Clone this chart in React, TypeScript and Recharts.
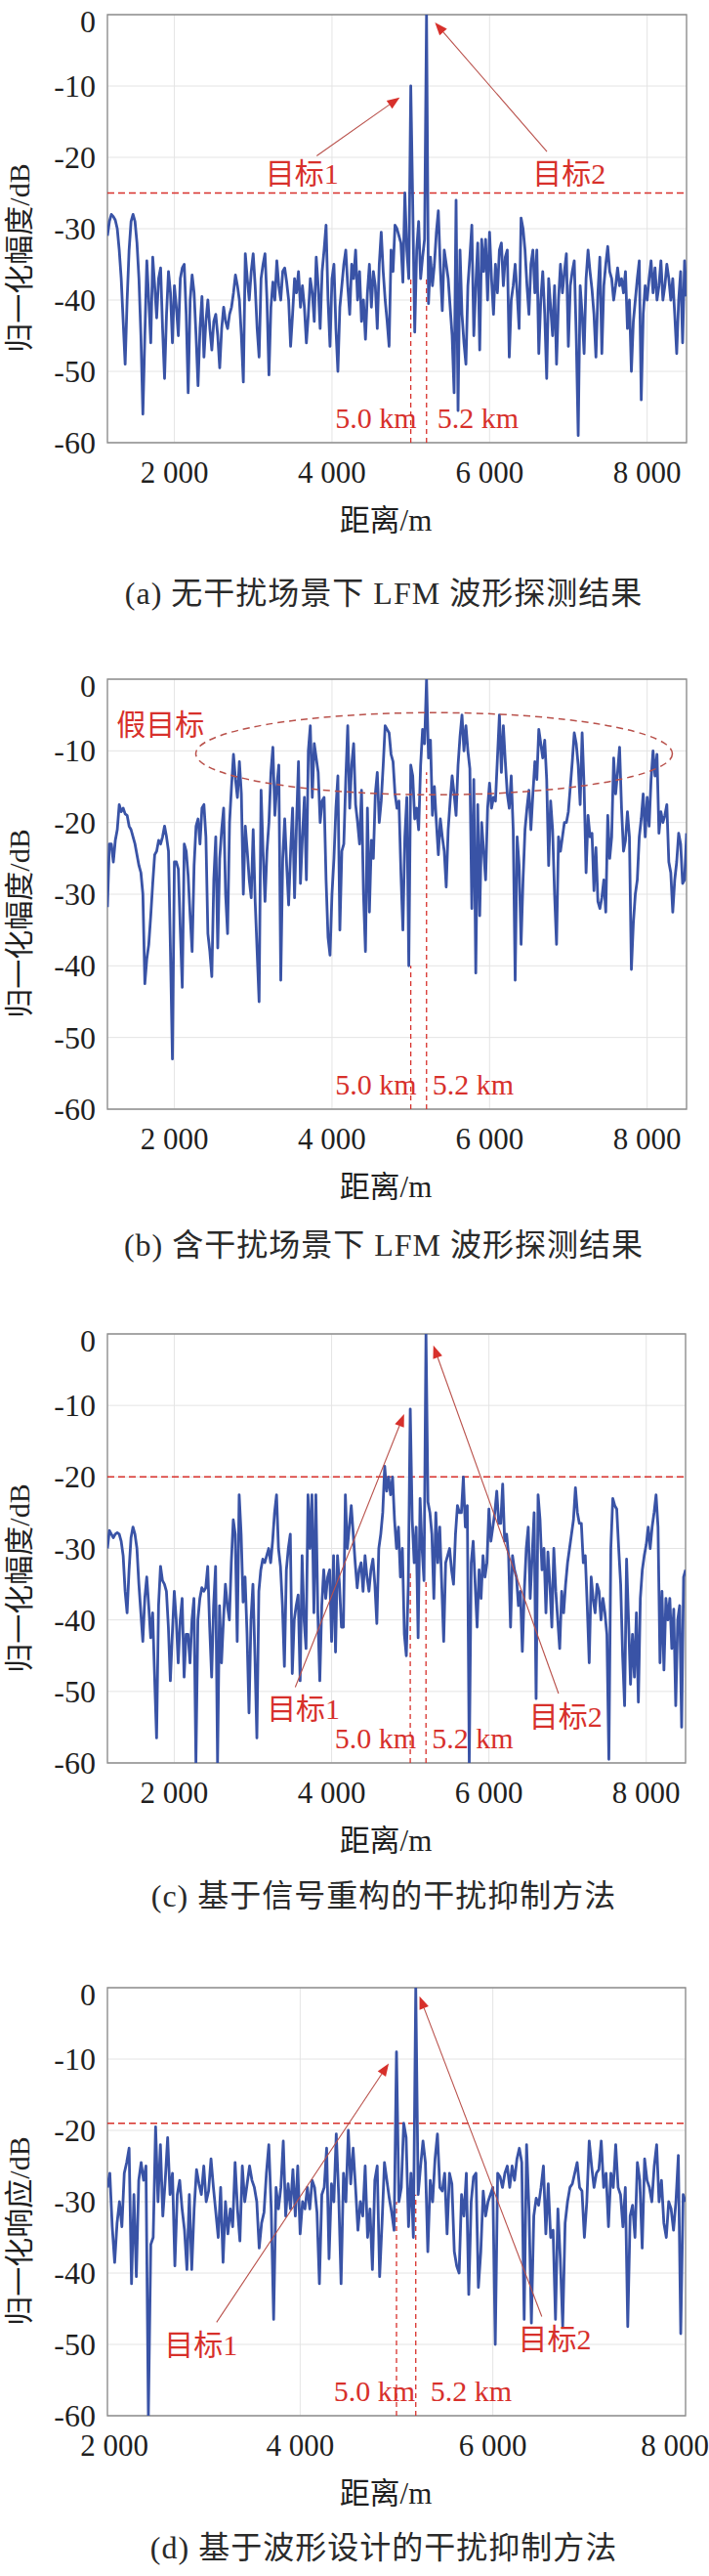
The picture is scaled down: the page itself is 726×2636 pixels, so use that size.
import {
  LineChart,
  Line,
  XAxis,
  YAxis,
  CartesianGrid,
  ReferenceLine,
  ReferenceArea,
  ReferenceDot,
} from 'recharts';

const SERIF = "'Liberation Serif', 'Noto Sans CJK SC', serif";
const BLUE = '#3953a6';
const RED = '#d7302b';
const ARROW_RED = '#b9514b';
const GRID = '#e4e4e4';
const FRAME = '#8d8d8d';
const INK = '#1f1f1f';

const STEP = 25;
const TOP_PAD = 30;
const X_TICKS = [2000, 4000, 6000, 8000];
const Y_TICKS = [-60, -50, -40, -30, -20, -10, 0];
const DOMAIN_ABC: [number, number] = [1150, 8500];
const DOMAIN_D: [number, number] = [2000, 8000];
const TARGETS = [5000, 5200];

// (a) no jamming, LFM, 1150..8500 m every 25 m
const ampA = [
  -31, -29, -28, -28.3, -28.8, -30, -33, -37, -43, -49, -40, -33, -29, -28, -29, -32, -37, -45, -56, -45,
  -34.5, -40, -46, -34, -38, -42.5, -37, -35.5, -44, -51, -42, -36, -39, -46, -38, -41, -45, -37, -35.5, -35,
  -42, -53, -40, -36.5, -39, -45, -52, -44, -39.5, -48, -43, -40, -44, -47, -43, -42, -45, -49.5, -44, -41,
  -43, -44, -42, -41, -39, -36.5, -38, -40, -45, -51.5, -33.5, -37, -40, -36, -33.5, -38, -44, -48, -37, -35,
  -33.5, -40, -50.5, -41, -37.5, -40, -34.5, -38, -40, -36, -35.5, -37.5, -40, -46.5, -42, -37, -39, -36, -41, -38,
  -41, -46, -42, -37, -39, -43, -34, -38, -44, -36, -33, -29.5, -40, -46.5, -37, -35, -44, -50, -41, -38,
  -35, -33, -38, -42, -35, -37, -33, -40, -36, -43, -40, -45.5, -39, -35, -41, -36, -38, -44, -35, -30.5,
  -36, -40, -43, -46.5, -33, -36, -29.5, -30, -31, -32, -37.5, -25, -33, -37, -10, -26.5, -44.5, -33, -29, -37,
  -34, -31.5, 0, -40.5, -34, -38, -35, -30.5, -27.5, -35.5, -41.5, -33, -35, -37, -41, -45, -53, -26, -55.5, -33,
  -42, -46, -49, -38, -34, -29.5, -45, -38, -32, -47, -31.5, -36, -31.5, -40, -30.5, -37, -42, -35, -39, -33,
  -32, -38, -34, -33, -48, -40, -38, -35, -39, -44, -28.5, -30, -33, -38, -42, -35, -33, -39, -33, -47.5,
  -40, -36, -42, -51, -37, -41, -45, -38, -49, -40, -35, -39, -36, -33.5, -46.5, -38, -36, -34.5, -45, -59,
  -38, -42, -47.5, -37, -33, -36, -38.5, -42, -48, -39, -34, -47.5, -38, -35, -32.5, -36, -37, -40, -38, -35.5,
  -38, -37, -39, -36, -44, -40, -50, -43, -40, -37, -34.5, -54, -42, -38, -40, -37, -34.5, -39, -35.5, -40,
  -38, -34.5, -40, -38, -35, -37, -40, -37, -42, -47.5, -40, -36, -46, -34.5, -39.5,
];

// (b) with jamming, LFM
const ampB = [
  -31.8, -23, -23, -25.5, -22.5, -21, -17.5, -18.5, -18, -18.8, -19, -20.5, -21, -22, -23, -24.5, -26, -27, -30, -42.5,
  -39, -37, -33, -28.5, -24.5, -24, -22.5, -23, -22, -20.5, -22, -24, -38, -53, -25.5, -25.5, -26.5, -35, -43, -23,
  -24, -27.5, -33, -38, -26, -20.5, -19.5, -23, -18, -17.5, -22, -35.5, -38, -41.5, -28, -22, -37.5, -25, -21, -18,
  -30, -35.5, -20, -15, -10.5, -14, -16.5, -11.5, -16, -30, -20.5, -24, -28, -30.5, -21, -31, -38, -45, -15.5, -24,
  -31, -24, -20, -13, -9.5, -19, -15, -12, -42, -25, -19.5, -26, -31.5, -24, -18, -30.5, -20, -11.5, -28.5, -22,
  -16.5, -28, -10, -6.5, -16.5, -9, -11, -13, -20, -17, -16.5, -28, -36, -38.5, -30, -25, -18, -13.5, -35, -24,
  -23, -14, -6.5, -18, -12, -9, -17.5, -20, -23, -15.5, -30, -38, -18, -32.5, -22.5, -25, -16, -13, -20, -17,
  -12, -6.5, -7, -7.5, -10.5, -11.5, -16, -18, -17, -27, -35, -22, -16.5, -40, -12, -13.5, -19.5, -18, -21, -12,
  -7, -9, 0, -11, -8.5, -19, -15, -20, -24.5, -19.5, -22, -24, -29, -21, -17, -13.5, -16, -19, -12, -8,
  -5, -10, -6.5, -10, -12.5, -32, -14, -41, -17.5, -33, -20, -24, -28, -18, -14.5, -18, -16.5, -17, -11, -5,
  -13, -6.5, -11.5, -16, -18, -13.5, -21, -42, -22, -26, -37, -28, -21, -18, -15.5, -21, -16, -11.5, -14, -7,
  -9, -11, -8.5, -14, -26, -17, -21, -30, -37, -22, -24, -22, -20, -20, -18.5, -15, -11.5, -7.5, -9, -12,
  -17.5, -7.5, -15, -27, -19, -22, -21.5, -29.5, -23.5, -31, -32, -30.5, -28, -32.5, -19, -25, -22, -11, -16, -13,
  -9.5, -18, -24, -22.5, -18.5, -22, -40.5, -34, -30, -28, -22, -19.5, -16, -22, -16.5, -20.5, -14, -10, -13.5, -10.5,
  -21.5, -18.5, -20, -19, -17.5, -25.5, -27, -32.5, -28, -25.5, -21.5, -23, -28.5, -28, -21.5,
];

// (c) signal reconstruction method
const ampC = [
  -30, -27.5, -28, -28.5, -28, -27.8, -28, -29, -31, -36, -39, -33, -28.5, -27, -28, -30, -35, -39, -43, -37,
  -34, -38, -42.5, -39, -48, -56.5, -38, -32.5, -34.5, -35, -36, -41, -48.5, -42, -36, -40, -46, -40, -37, -48,
  -42, -42, -46, -40, -37, -60, -40, -37, -35.5, -36, -35.5, -32.5, -41, -48, -38, -32.5, -60, -38, -46, -40,
  -35, -38, -40, -32, -26, -28, -43, -22.5, -28, -37.5, -34, -42, -53, -40, -35, -45, -56.5, -36, -33, -31.5,
  -32, -31, -30, -32, -29, -25, -22.5, -30, -32.5, -38, -46.5, -33, -30, -28, -47.5, -40, -38, -36.5, -48.5, -31,
  -40, -44, -22.5, -30, -22.5, -39, -22.5, -39, -48.5, -38, -33, -37, -34, -33, -43, -31, -44.5, -31, -35, -41,
  -41, -22.5, -30, -27, -24, -28, -32, -35.5, -33, -32, -36, -31, -34, -36, -33, -31.5, -35, -40.5, -30, -28,
  -25, -18.5, -22, -20, -22.5, -20, -26, -30, -27, -34, -30, -42, -45, -35, -10.5, -26, -32, -27, -42.5, -23,
  -30, -34.5, 0, -23.5, -25, -28, -37, -25, -32, -27, -35, -43, -32, -31, -30, -33, -35, -28, -24, -25,
  -25, -20, -27, -24, -60, -32, -29, -35, -41, -33, -37, -31, -34, -32, -24.5, -29, -27, -25, -22, -26.5,
  -26.5, -21, -29, -28, -31, -41, -31, -33, -34, -38, -36, -44.4, -36, -30, -27, -37, -31, -25, -51, -22.5,
  -26, -33, -30, -39, -30.5, -35, -41, -30, -36, -40, -44, -36, -39, -35, -32, -30, -28, -26, -21.5, -25,
  -26.5, -26.5, -32, -31, -38, -46, -34, -37, -39, -35, -36, -40, -37, -39, -42, -59.5, -30, -23, -24, -24.5,
  -30, -35, -45, -52, -31.5, -40, -49, -42, -48, -39, -51.5, -37, -33, -31, -29.5, -27, -30, -27, -25, -22.5,
  -27, -46, -36, -47, -37, -40, -37, -44, -38.5, -52, -40, -38, -55, -34, -33,
];

// (d) waveform design method, 2000..8000 m every 25 m
const ampD = [
  -28, -26, -33.5, -38.5, -33, -30, -33.5, -26, -24.5, -22.5, -41.5, -29, -40.5, -27, -24.5, -27, -25, -60, -36, -35,
  -19.5, -30, -22, -32, -27, -21, -29, -26, -39, -29, -27, -31, -34, -39.5, -29, -39.5, -31, -25.5, -27.5, -29,
  -25, -30, -28.5, -24, -28, -31.5, -35, -28, -38.5, -30, -34.5, -31, -33.5, -24.5, -31, -35.5, -25, -30, -27.5, -25,
  -27, -28, -30, -36.5, -33, -31.5, -26, -22, -31, -46.5, -28, -31, -28, -21.5, -32, -27.5, -31, -25.5, -32, -25,
  -34.5, -30, -31, -28, -31, -27, -28, -31.5, -41.5, -29, -28, -22.5, -38, -27.5, -30, -20.5, -29, -41.5, -26, -30,
  -20, -27.5, -22.5, -28, -34, -30, -32, -25, -35, -31, -39.5, -27, -25, -40.5, -33, -24.5, -27, -29.5, -31.5, -34,
  -9, -30, -28, -19, -21, -33.5, -26, -35, 0, -29, -25, -21.5, -24.5, -37, -27, -30, -24, -20.5, -28, -28.5,
  -26, -34.5, -26, -27.5, -37, -39, -40, -29, -32, -26, -43, -30, -26.5, -26, -42, -37, -28.5, -32, -30, -29,
  -28, -50, -26, -26.5, -28, -26, -25, -28, -25, -27, -24, -22.5, -24.5, -46.5, -22, -31, -47, -32, -29.5, -30.5,
  -28, -25, -34.5, -27.5, -35, -34, -46.5, -31, -38, -47.5, -33, -30, -28, -27.5, -26, -24.5, -28, -28.5, -35, -30,
  -21.5, -25, -28, -26, -25.5, -21.5, -28, -26, -33.5, -26, -28, -22, -28, -29, -33.5, -28, -47.5, -32, -30.5, -35,
  -24.5, -27, -36.5, -24, -27, -28, -30, -25, -22, -30, -27, -33, -35, -30, -31, -34, -30, -23.5, -48.5, -29,
  -30,
];

// annotation values (distance m, dB)
const STEMS_A = [-37, -37];
const STEMS_B = [-40, -13];
const STEMS_C = [-33, -34.5];
const STEMS_D = [-30, -29];

const ARROWS_A = [
  [3806, -19.8, 4860, -11.6],
  [6728, -19.2, 5307, -1.1],
];
const ARROWS_C = [
  [3538, -49.4, 4922, -11.2],
  [6885, -50.3, 5294, -1.6],
];
const ARROWS_D = [
  [3133, -46.9, 4920, -10.6],
  [6508, -46.1, 5239, -1.2],
];

type Note = { x: number; y: number; text: string; anchor?: 'start' | 'middle' | 'end' };
const NOTES_A: Note[] = [
  { x: 3620, y: -22.3, text: '目标1' },
  { x: 7010, y: -22.3, text: '目标2' },
];
const NOTES_B: Note[] = [{ x: 1264, y: -6.4, text: '假目标', anchor: 'start' }];
const NOTES_C: Note[] = [
  { x: 3641, y: -52.4, text: '目标1' },
  { x: 6976, y: -53.5, text: '目标2' },
];
const NOTES_D: Note[] = [
  { x: 2971, y: -50.1, text: '目标1' },
  { x: 6643, y: -49.2, text: '目标2' },
];
const KM_Y = -56.5;

const fmtX = (v: number) => String(v).replace(/(\d)(\d{3})$/, '$1 $2');

const XTick = (p: any) => (
  <text
    x={Math.max(117, Math.min(p.x, 691))}
    y={p.y + 30}
    textAnchor="middle"
    dominantBaseline="central"
    fontFamily={SERIF}
    fontSize={31}
    fill={INK}
  >
    {fmtX(p.payload.value)}
  </text>
);

// the top label sits a little below the frame, as in the source figure
const YTick = (p: any) => (
  <text
    x={p.x - 12}
    y={p.payload.value === 0 ? p.y + 7 : p.y}
    textAnchor="end"
    dominantBaseline="central"
    fontFamily={SERIF}
    fontSize={32}
    fill={INK}
  >
    {p.payload.value}
  </text>
);

const ArrowShape = (p: any) => {
  const { x1, y1, x2, y2 } = p;
  const a = Math.atan2(y2 - y1, x2 - x1);
  const L = 13;
  const W = 5;
  const bx = x2 - L * Math.cos(a);
  const by = y2 - L * Math.sin(a);
  const px = W * Math.sin(a);
  const py = W * Math.cos(a);
  return (
    <g>
      <line x1={x1} y1={y1} x2={bx} y2={by} stroke={ARROW_RED} strokeWidth={1.1} />
      <polygon points={`${x2},${y2} ${bx + px},${by - py} ${bx - px},${by + py}`} fill={RED} />
    </g>
  );
};

type PanelProps = {
  amp: number[];
  domain: [number, number];
  top: number;
  plotH: number;
  right: number;
  yLabel: string;
  caption: string;
  captionY: number;
  threshold?: number;
  stems: number[];
  kmDx: number[];
  notes: Note[];
  arrows: number[][];
  ellipse?: boolean;
};

const Panel = ({
  amp,
  domain,
  top,
  plotH,
  right,
  yLabel,
  caption,
  captionY,
  threshold,
  stems,
  kmDx,
  notes,
  arrows,
  ellipse,
}: PanelProps) => {
  const rows = amp.map((v, i) => ({ d: domain[0] + STEP * i, v }));
  const bottom = top + plotH;
  return (
    <>
      <div style={{ position: 'absolute', left: 0, top: top - TOP_PAD }}>
        <LineChart
          width={726}
          height={TOP_PAD + plotH + 110}
          data={rows}
          margin={{ top: TOP_PAD, right: 726 - right, bottom: 0, left: 0 }}
        >
          <CartesianGrid stroke={GRID} strokeWidth={1} />
          <XAxis
            type="number"
            dataKey="d"
            domain={domain}
            ticks={X_TICKS}
            interval={0}
            allowDataOverflow
            axisLine={false}
            tickLine={false}
            tickSize={0}
            tickMargin={0}
            height={110}
            tick={XTick}
          />
          <YAxis
            type="number"
            domain={[-60, 0]}
            ticks={Y_TICKS}
            interval={0}
            allowDataOverflow
            axisLine={false}
            tickLine={false}
            tickSize={0}
            tickMargin={0}
            width={110}
            tick={YTick}
          />
          <ReferenceArea
            x1={domain[0]}
            x2={domain[1]}
            y1={-60}
            y2={0}
            fill="none"
            stroke={FRAME}
            strokeWidth={1.3}
          />
          {threshold != null && (
            <ReferenceLine y={threshold} stroke={RED} strokeWidth={1.5} strokeDasharray="7 4" />
          )}
          {TARGETS.map((t, i) => (
            <ReferenceLine
              key={t}
              segment={[
                { x: t, y: -60 },
                { x: t, y: stems[i] },
              ]}
              stroke={RED}
              strokeWidth={1.3}
              strokeDasharray="5 4"
            />
          ))}
          <Line
            type="linear"
            dataKey="v"
            stroke={BLUE}
            strokeWidth={2.8}
            strokeLinejoin="round"
            dot={false}
            isAnimationActive={false}
          />
          {ellipse && (
            <ReferenceDot
              x={5296}
              y={-10.4}
              r={0}
              shape={(p: any) => (
                <ellipse
                  cx={p.cx}
                  cy={p.cy}
                  rx={244}
                  ry={42}
                  fill="none"
                  stroke={ARROW_RED}
                  strokeWidth={1.5}
                  strokeDasharray="7 5"
                />
              )}
            />
          )}
          {arrows.map((s, i) => (
            <ReferenceLine
              key={`ar${i}`}
              segment={[
                { x: s[0], y: s[1] },
                { x: s[2], y: s[3] },
              ]}
              shape={ArrowShape}
            />
          ))}
          {notes.map((n) => (
            <ReferenceDot
              key={n.text}
              x={n.x}
              y={n.y}
              r={0}
              shape={(p: any) => (
                <text
                  x={p.cx}
                  y={p.cy}
                  textAnchor={n.anchor ?? 'middle'}
                  dominantBaseline="central"
                  fontFamily={SERIF}
                  fontSize={30}
                  fill={RED}
                >
                  {n.text}
                </text>
              )}
            />
          ))}
          {TARGETS.map((t, i) => (
            <ReferenceDot
              key={`km${t}`}
              x={t}
              y={KM_Y}
              r={0}
              shape={(p: any) => (
                <text
                  x={p.cx + kmDx[i]}
                  y={p.cy}
                  textAnchor={i === 0 ? 'end' : 'start'}
                  dominantBaseline="central"
                  fontFamily={SERIF}
                  fontSize={30}
                  fill={RED}
                >
                  {(t / 1000).toFixed(1)} km
                </text>
              )}
            />
          ))}
        </LineChart>
      </div>
      <div
        style={{
          position: 'absolute',
          left: 20 - 150,
          top: top + plotH / 2 + 30 - 20,
          width: 300,
          height: 40,
          lineHeight: '40px',
          textAlign: 'center',
          transform: 'rotate(-90deg)',
          fontFamily: SERIF,
          fontSize: 30,
          color: INK,
          whiteSpace: 'nowrap',
        }}
      >
        {yLabel}
      </div>
      <div
        style={{
          position: 'absolute',
          left: 295,
          top: bottom + 80 - 20,
          width: 200,
          height: 40,
          lineHeight: '40px',
          textAlign: 'center',
          fontFamily: SERIF,
          fontSize: 31,
          color: INK,
        }}
      >
        距离/m
      </div>
      <div
        style={{
          position: 'absolute',
          left: 43,
          top: captionY - 20,
          width: 700,
          height: 40,
          lineHeight: '40px',
          textAlign: 'center',
          fontFamily: SERIF,
          fontSize: 32,
          letterSpacing: 1,
          color: '#2a2a2a',
          whiteSpace: 'nowrap',
        }}
      >
        {caption}
      </div>
    </>
  );
};

export default function App() {
  return (
    <div
      style={{
        position: 'absolute',
        left: 0,
        top: 0,
        width: 726,
        height: 2636,
        background: '#fff',
        overflow: 'hidden',
      }}
    >
      <Panel
        amp={ampA}
        domain={DOMAIN_ABC}
        top={15}
        plotH={438}
        right={703}
        yLabel="归一化幅度/dB"
        caption="(a) 无干扰场景下 LFM 波形探测结果"
        captionY={607}
        threshold={-25}
        stems={STEMS_A}
        kmDx={[6, 11]}
        notes={NOTES_A}
        arrows={ARROWS_A}
      />
      <Panel
        amp={ampB}
        domain={DOMAIN_ABC}
        top={695}
        plotH={440}
        right={703}
        yLabel="归一化幅度/dB"
        caption="(b) 含干扰场景下 LFM 波形探测结果"
        captionY={1274}
        stems={STEMS_B}
        kmDx={[6, 6]}
        notes={NOTES_B}
        arrows={[]}
        ellipse
      />
      <Panel
        amp={ampC}
        domain={DOMAIN_ABC}
        top={1365}
        plotH={439}
        right={702}
        yLabel="归一化幅度/dB"
        caption="(c) 基于信号重构的干扰抑制方法"
        captionY={1940}
        threshold={-20}
        stems={STEMS_C}
        kmDx={[6, 6]}
        notes={NOTES_C}
        arrows={ARROWS_C}
      />
      <Panel
        amp={ampD}
        domain={DOMAIN_D}
        top={2034}
        plotH={438}
        right={702}
        yLabel="归一化响应/dB"
        caption="(d) 基于波形设计的干扰抑制方法"
        captionY={2607}
        threshold={-19}
        stems={STEMS_D}
        kmDx={[19, 15]}
        notes={NOTES_D}
        arrows={ARROWS_D}
      />
    </div>
  );
}
